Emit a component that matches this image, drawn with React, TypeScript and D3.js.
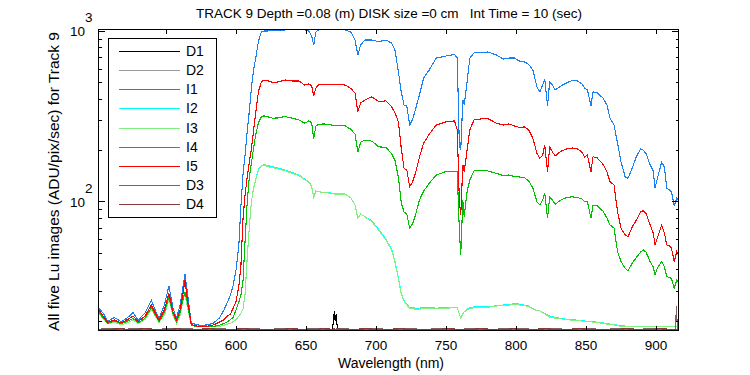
import React from "react";
import * as d3 from "d3";

// ---------- data ----------
const wavelengths = [
  502, 505, 508.5, 513, 518, 522, 526.5, 530, 535, 539.5,
  542, 545, 549, 552, 555, 557.5, 560, 562, 563.5, 565,
  568, 572, 576, 580, 584, 588, 591, 594, 596, 598,
  600, 602, 603.5, 605, 606.5, 608, 609.5, 611, 612.5, 614,
  616, 618, 620, 623, 626, 630, 635, 640, 645, 649,
  652, 654, 655.5, 657, 659, 663, 668, 670, 671, 673,
  678, 682, 685, 687, 689, 692, 697, 702, 707, 711,
  713.5, 716, 718, 720, 722, 724, 726, 728, 731, 734,
  738, 743, 750, 756, 758, 759.5, 760.5, 762, 763, 765,
  767, 770, 775, 780, 786, 791, 795, 799, 803, 806,
  809, 812, 815, 817, 819, 820.5, 822.5, 824, 826, 828,
  832, 836, 840, 844, 847, 849, 851, 853.5, 855, 858,
  862, 865, 867, 870, 872.5, 875, 878, 880, 883, 886,
  889, 891, 893, 895.5, 898, 899.3, 901, 904, 906, 907.6,
  909.5, 911, 913, 914.8, 916,
];

const I1 = [
  23.7, 22.2, 19.8, 20.9, 19.7, 20.7, 22.3, 20.1, 22.2, 26.4,
  23.4, 20.5, 25.0, 32.0, 23.7, 20.7, 24.7, 31.1, 37.6, 30.3,
  19.4, 18.9, 18.8, 18.9, 19.4, 20.7, 22.8, 25.8, 28.3, 32.4,
  39.7, 55.6, 95, 145, 190, 258, 340, 465, 590, 687,
  870, 985, 1000, 1000, 1014, 1000, 1014, 1021, 1027, 1014,
  1000, 934, 828, 986, 1014, 1021, 1021, 1021, 1021, 1021,
  1014, 986, 885, 723, 828, 885, 885, 865, 885, 851,
  774, 575, 439, 368, 363, 281, 301, 344, 421, 530,
  591, 694, 713, 728, 694, 214, 200, 394, 368, 502,
  694, 743, 748, 753, 723, 685, 694, 694, 661, 658,
  638, 591, 469, 439, 482, 523, 363, 502, 482, 451,
  476, 495, 513, 509, 489, 463, 451, 363, 439, 433,
  405, 368, 309, 281, 220, 170, 139, 137, 157, 184,
  203, 200, 190, 166, 151, 120, 137, 170, 159, 120,
  117, 114, 94.1, 104.8, 102,
];

const I2 = [
  22.1, 20.5, 19.2, 19.6, 18.9, 19.4, 20.2, 19.3, 20.3, 23.3,
  21.5, 19.5, 21.7, 26.7, 21.3, 19.3, 21.3, 26.1, 29.0, 24.7,
  18.8, 18.4, 18.4, 18.4, 18.4, 18.5, 18.8, 19.1, 19.3, 19.8,
  20.3, 21.3, 22.1, 23.4, 29, 47, 71, 100, 119, 135,
  154, 162, 165, 162, 160, 157, 153, 148, 143, 135,
  131, 123, 106, 115, 114, 113, 112, 111, 110.6, 110.6,
  110.6, 105, 95.4, 79.7, 84.5, 81.5, 77, 68.4, 60.2, 53,
  44.6, 35.5, 29, 26.2, 24.9, 23.9, 23.8, 23.7, 23.7, 23.8,
  23.8, 23.7, 23.8, 23.8, 23.8, 21.9, 20.7, 22.0, 22.6, 23.3,
  23.9, 24.1, 24.2, 24.1, 24.5, 24.7, 24.9, 25.2, 25.0, 24.7,
  24.4, 23.5, 23.0, 22.8, 22.4, 22.1, 21.7, 21.3, 21.1, 20.9,
  20.6, 20.4, 20.3, 20.1, 20.0, 19.9, 19.8, 19.75, 19.7, 19.6,
  19.4, 19.2, 19.1, 19.0, 18.8, 18.7, 18.6, 18.6, 18.6, 18.6,
  18.6, 18.6, 18.6, 18.6, 18.6, 18.6, 18.6, 18.6, 18.6, 18.6,
  18.6, 18.6, 18.6, 18.6, 18.7,
];

const I3 = [
  22.1, 20.5, 19.2, 19.6, 18.9, 19.4, 20.2, 19.3, 20.3, 23.3,
  21.5, 19.5, 21.7, 26.7, 21.3, 19.3, 21.3, 26.1, 29.0, 24.7,
  18.8, 18.4, 18.4, 18.4, 18.4, 18.5, 18.8, 19.1, 19.3, 19.8,
  20.3, 21.3, 22.1, 23.4, 29, 47, 71, 100, 119, 134,
  153, 161, 164, 160, 158, 155, 151.5, 146, 142, 134,
  130, 122, 106, 114.3, 114, 113, 111.5, 110.6, 110.6, 110.6,
  110.6, 105, 95.4, 79.7, 84.5, 81.5, 76.2, 67.6, 59.5, 52.4,
  44.2, 35.1, 28.7, 26.0, 24.7, 23.7, 23.5, 23.4, 23.4, 23.5,
  23.6, 23.6, 23.7, 23.8, 23.8, 21.9, 20.7, 22.0, 22.5, 23.1,
  23.6, 23.8, 23.9, 24.0, 24.4, 24.5, 24.7, 24.9, 24.7, 24.5,
  24.2, 23.4, 22.9, 22.8, 22.3, 21.9, 21.4, 21.0, 20.8, 20.7,
  20.5, 20.3, 20.15, 20.0, 19.9, 19.85, 19.7, 19.7, 19.6, 19.5,
  19.3, 19.1, 19.0, 18.9, 18.7, 18.5, 18.4, 18.4, 18.4, 18.4,
  18.4, 18.4, 18.4, 18.4, 18.4, 18.4, 18.4, 18.4, 18.4, 18.5,
  18.5, 18.5, 18.5, 18.5, 18.6,
];

const I4 = [
  22.6, 20.7, 19.3, 19.9, 19.2, 19.8, 20.6, 19.4, 20.7, 23.9,
  21.9, 19.7, 22.5, 27.7, 21.9, 19.7, 22.2, 26.4, 29.5, 26.1,
  18.9, 18.4, 18.4, 18.4, 18.5, 18.8, 19.2, 19.7, 20.3, 20.9,
  23.2, 25.8, 28.3, 34.6, 60, 100, 140, 168, 205, 245,
  290, 312, 318, 313, 308, 309, 315, 308, 301, 288,
  297, 289, 234, 277, 284, 285, 281, 280, 279, 279,
  278, 265, 248, 195, 223, 229, 226, 209, 208, 191,
  175, 138, 98, 86.8, 84.5, 69.7, 73.8, 82.3, 102, 115,
  128, 143, 150, 150, 149, 68.1, 48.6, 102, 81.5, 114,
  134, 151, 153, 151, 146, 142, 143, 140, 139, 138,
  132, 120, 99.3, 95.4, 102, 111.5, 79.7, 106.5, 102, 96.3,
  102, 105.5, 106.5, 105.5, 103.4, 99.9, 99.9, 79.7, 95.4, 94.1,
  88, 80, 72.8, 70, 50.8, 44.4, 40.6, 39.1, 43.6, 47.0,
  50.6, 52.0, 50.3, 44.8, 41.4, 37.1, 40.8, 44.4, 41.4, 36.3,
  35.9, 35.4, 31.0, 34.6, 33.7,
];

const I5 = [
  23.1, 21.3, 19.5, 20.2, 19.4, 20.2, 21.3, 19.7, 21.3, 24.7,
  22.5, 20.1, 23.4, 29.0, 22.5, 20.2, 23.1, 28.3, 34.6, 27.6,
  19.0, 18.6, 18.5, 18.6, 18.9, 19.6, 20.2, 21.3, 21.9, 23.7,
  26.0, 32.0, 42.4, 80, 110, 140, 170, 205, 260, 330,
  440, 502, 516, 509, 500, 502, 516, 509, 509, 482,
  489, 476, 415, 463, 482, 485, 487, 485, 485, 485,
  482, 460, 433, 336, 378, 394, 411, 385, 389, 360,
  331, 293, 205.5, 156.5, 153, 122, 130, 145, 182, 220,
  248, 281, 293, 297, 263, 102, 83.4, 164, 149, 200,
  263, 301, 305, 306, 288, 281, 285, 277, 271, 274,
  263, 235, 191, 179, 187, 214, 149.5, 209, 195, 185,
  197, 203, 206, 203, 195, 182, 187, 149.5, 183, 180,
  166, 149, 131, 125, 87.2, 69.7, 63.6, 62.2, 70.9, 77.9,
  86.8, 88.4, 84.5, 73.8, 65.3, 55.6, 61.1, 72.8, 65.4, 55.6,
  54.9, 53.2, 44.4, 50.8, 49.4,
];

const darkWavelengths = [
  502, 510, 518, 526, 534, 542, 550, 558, 566, 574,
  582, 590, 598, 606, 614, 622, 630, 638, 646, 654,
  662, 668.5, 669.5, 670.2, 670.8, 671.5, 672.5, 678, 686, 694,
  702, 710, 718, 726, 734, 742, 750, 758, 766, 774,
  782, 790, 798, 806, 814, 822, 830, 838, 846, 854,
  862, 870, 878, 886, 894, 902, 910, 914, 914.5, 915.3,
  916,
];

const D1 = [
  17.5, 17.6, 17.5, 17.55, 17.6, 17.5, 17.55, 17.5, 17.6, 17.55,
  17.5, 17.6, 17.5, 17.55, 17.5, 17.6, 17.5, 17.55, 17.6, 17.5,
  17.55, 17.6, 19.5, 22.8, 20.0, 21.8, 17.6, 17.5, 17.6, 17.55,
  17.5, 17.6, 17.5, 17.55, 17.5, 17.6, 17.5, 17.55, 17.6, 17.5,
  17.5, 17.6, 17.55, 17.5, 17.6, 17.5, 17.55, 17.5, 17.6, 17.5,
  17.55, 17.6, 17.5, 17.5, 17.6, 17.55, 17.5, 17.55, 17.5, 17.6,
  17.6,
];

const D2 = [
  17.7, 17.75, 17.7, 17.65, 17.7, 17.75, 17.7, 17.7, 17.65, 17.7,
  17.75, 17.7, 17.7, 17.65, 17.75, 17.7, 17.7, 17.75, 17.65, 17.7,
  17.7, 17.75, 17.7, 17.7, 17.65, 17.7, 17.75, 17.7, 17.65, 17.7,
  17.75, 17.7, 17.7, 17.65, 17.7, 17.75, 17.7, 17.7, 17.65, 17.7,
  17.75, 17.7, 17.7, 17.65, 17.7, 17.75, 17.7, 17.7, 17.65, 17.7,
  17.75, 17.7, 17.7, 17.65, 17.7, 17.75, 17.7, 17.7, 17.7, 17.7,
  17.7,
];

const D3 = [
  17.85, 17.9, 17.8, 17.9, 17.85, 17.8, 17.9, 17.85, 17.9, 17.8,
  17.85, 17.9, 17.8, 17.85, 17.9, 17.8, 17.9, 17.85, 17.8, 17.9,
  17.85, 17.8, 17.9, 17.85, 17.8, 17.9, 17.85, 17.9, 17.8, 17.85,
  17.9, 17.8, 17.85, 17.9, 17.8, 17.9, 17.85, 17.8, 17.9, 17.85,
  17.8, 17.9, 17.85, 17.9, 17.8, 17.85, 17.9, 17.8, 17.85, 17.9,
  17.8, 17.9, 17.85, 17.8, 17.9, 17.85, 17.8, 17.8, 24.3, 17.8,
  17.85,
];

const D4 = [
  17.8, 17.85, 17.9, 17.8, 17.9, 17.85, 17.8, 17.9, 17.8, 17.85,
  17.9, 17.8, 17.85, 17.9, 17.8, 17.85, 17.8, 17.9, 17.85, 17.8,
  17.9, 17.85, 17.8, 17.9, 17.85, 17.8, 17.9, 17.8, 17.85, 17.9,
  17.8, 17.85, 17.9, 17.8, 17.85, 17.8, 17.9, 17.85, 17.8, 17.9,
  17.85, 17.8, 17.9, 17.8, 17.85, 17.9, 17.8, 17.85, 17.9, 17.8,
  17.85, 17.8, 17.9, 17.85, 17.8, 17.9, 17.85, 17.8, 17.8, 17.85,
  17.8,
];

const seriesNames = ["D1", "D2", "I1", "I2", "I3", "I4", "I5", "D3", "D4"];
const seriesColors = ["#000000", "#999999", "#1a80f0", "#00ffff", "#80f080", "#00c000", "#ff0000", "#7f5f5f", "#8b3a3a"];
const seriesValues = [D1, D2, I1, I2, I3, I4, I5, D3, D4];
const seriesX = [darkWavelengths, darkWavelengths, wavelengths, wavelengths, wavelengths, wavelengths, wavelengths, darkWavelengths, darkWavelengths];

const xTicks = [550, 600, 650, 700, 750, 800, 850, 900];
const yMajorTicks = [100, 1000];
const yMajorExp = ["2", "3"];
const yMinorTicks = [20, 30, 40, 50, 60, 70, 80, 90, 200, 300, 400, 500, 600, 700, 800, 900];

const titleText = "TRACK 9 Depth =0.08 (m) DISK size =0 cm   Int Time = 10 (sec)";
const xLabel = "Wavelength (nm)";
const yLabel = "All five Lu images (ADU/pix/sec) for Track 9";

// ---------- layout ----------
const W = 750;
const H = 375;
const L = 98, R = 679, T = 29, B = 331;
const FONT = "'Liberation Sans', Arial, Helvetica, sans-serif";

export default function App() {
  const x = d3.scaleLinear().domain([501.4, 916.4]).range([L, R]);
  const y = d3.scaleLog().domain([17.4, 1027]).range([B, T]);

  const paths = seriesValues.map((vals, si) => {
    const xs = seriesX[si];
    const line = d3
      .line<number>()
      .x((_, i) => x(xs[i]))
      .y((d) => y(d));
    return line(vals) || "";
  });

  const legX = 108, legY = 38, legW = 108, legH = 179;
  const legRow0 = 50.7, legDy = 19.2;

  return (
    <svg
      width={W}
      height={H}
      viewBox={`0 0 ${W} ${H}`}
      style={{ position: "absolute", left: 0, top: 0, background: "#fff" }}
      fontFamily={FONT}
    >
      <rect x={0} y={0} width={W} height={H} fill="#fff" />
      <defs>
        <clipPath id="plotclip">
          <rect x={L} y={T} width={R - L} height={B - T} />
        </clipPath>
      </defs>

      {/* data */}
      <g clipPath="url(#plotclip)">
        {paths.map((p, i) => (
          <path key={seriesNames[i]} d={p} fill="none" stroke={seriesColors[i]} strokeWidth={1.1} shapeRendering="crispEdges" />
        ))}
      </g>

      {/* frame */}
      <rect x={L + 0.5} y={T + 0.5} width={R - L - 1} height={B - T - 1} fill="none" stroke="#000" strokeWidth={1} shapeRendering="crispEdges" />

      {/* ticks */}
      <g shapeRendering="crispEdges" stroke="#000">
        {xTicks.map((t) => (
          <g key={t}>
            <line x1={Math.round(x(t)) + 0.5} x2={Math.round(x(t)) + 0.5} y1={B} y2={B - 5} />
            <line x1={Math.round(x(t)) + 0.5} x2={Math.round(x(t)) + 0.5} y1={T} y2={T + 5} />
          </g>
        ))}
        {yMajorTicks.map((t) => (
          <g key={t}>
            <line x1={L} x2={L + 7} y1={Math.round(y(t)) + 0.5} y2={Math.round(y(t)) + 0.5} />
            <line x1={R} x2={R - 7} y1={Math.round(y(t)) + 0.5} y2={Math.round(y(t)) + 0.5} />
          </g>
        ))}
        {yMinorTicks.map((t) => (
          <g key={t}>
            <line x1={L} x2={L + 3.5} y1={Math.round(y(t)) + 0.5} y2={Math.round(y(t)) + 0.5} />
            <line x1={R} x2={R - 3.5} y1={Math.round(y(t)) + 0.5} y2={Math.round(y(t)) + 0.5} />
          </g>
        ))}
      </g>

      {/* x tick labels */}
      <g fontSize={13.5} textAnchor="middle" fill="#000">
        {xTicks.map((t) => (
          <text key={t} x={x(t)} y={350}>
            {t}
          </text>
        ))}
      </g>

      {/* y tick labels */}
      <g fontSize={13.5} fill="#000">
        {yMajorTicks.map((t, i) => (
          <g key={t}>
            <text x={85} y={y(t) + 5.5} textAnchor="end">
              10
            </text>
            <text x={85} y={y(t) - 8.5} textAnchor="start">
              {yMajorExp[i]}
            </text>
          </g>
        ))}
      </g>

      {/* title and axis labels */}
      <text x={389} y={18} fontSize={13.5} textAnchor="middle" fill="#000" style={{ whiteSpace: "pre" }}>
        {titleText}
      </text>
      <text x={391} y={368} fontSize={14} textAnchor="middle" fill="#000">
        {xLabel}
      </text>
      <text
        transform={`translate(59,32) rotate(-90)`}
        fontSize={15.5}
        textAnchor="end"
        fill="#000"
      >
        {yLabel}
      </text>

      {/* legend */}
      <rect x={legX + 0.5} y={legY + 0.5} width={legW} height={legH} fill="#fff" stroke="#000" strokeWidth={1} shapeRendering="crispEdges" />
      {seriesNames.map((n, i) => {
        const yy = legRow0 + i * legDy;
        return (
          <g key={n}>
            <line x1={119} x2={180} y1={Math.round(yy) + 0.5} y2={Math.round(yy) + 0.5} stroke={seriesColors[i]} strokeWidth={1} shapeRendering="crispEdges" />
            <text x={186} y={yy + 5} fontSize={14} fill="#000">
              {n}
            </text>
          </g>
        );
      })}
    </svg>
  );
}
